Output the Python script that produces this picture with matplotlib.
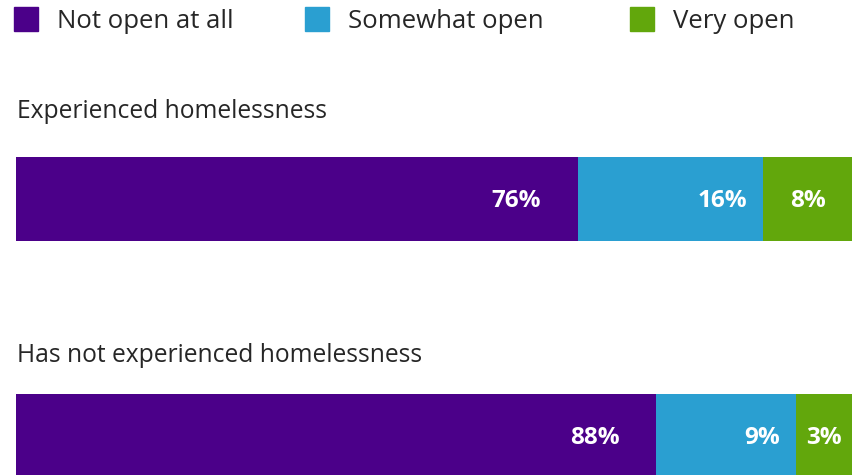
import matplotlib
matplotlib.use('Agg')
import matplotlib.pyplot as plt
from matplotlib.patches import Rectangle

plt.rcParams['font.family'] = ['Open Sans', 'DejaVu Sans']

groups = ['Experienced homelessness', 'Has not experienced homelessness']
categories = ['Not open at all', 'Somewhat open', 'Very open']
colors = ['#4b0089', '#2a9fd1', '#62a70c']
# printed labels
labels = [[76, 16, 8], [88, 9, 3]]
# segment widths as drawn in the picture (share of full bar)
widths = [[67.2, 22.2, 10.6], [76.6, 16.7, 6.7]]

W, H = 855, 475
fig = plt.figure(figsize=(W / 100, H / 100), dpi=100)
ax = fig.add_axes([0, 0, 1, 1])
scale = 836 / 100.0
ax.set_xlim(-16 / scale, (W - 16) / scale)
ax.set_ylim(H, 0)
ax.axis('off')

bar_y = [199, 436]
title_y = [112, 355]
pads = [-37, -16, None]

for i, g in enumerate(groups):
    ax.text(1 / scale, title_y[i], g, fontsize=17.7, color='#262626',
            va='center', ha='left')
    left = 0
    for j, w in enumerate(widths[i]):
        ax.barh(bar_y[i], w, left=left, height=84, color=colors[j], linewidth=0)
        txt = '%d%%' % labels[i][j]
        if pads[j] is None:
            ax.text(left + w / 2, bar_y[i] + 2, txt, color='white', fontsize=17.5,
                    fontweight='bold', ha='center', va='center')
        else:
            ax.text(left + w + pads[j] / scale, bar_y[i] + 2, txt, color='white',
                    fontsize=17.5, fontweight='bold', ha='right', va='center')
        left += w

# legend
leg_x = [14, 305, 630]
for j, c in enumerate(categories):
    fig.patches.append(Rectangle((leg_x[j] / W, 1 - 31 / H), 24 / W, 24 / H,
                                 transform=fig.transFigure, color=colors[j]))
    fig.text((leg_x[j] + 43) / W, 1 - 21 / H, c, fontsize=18.5, color='#262626',
             va='center', ha='left')

fig.savefig('out.png', dpi=100)
